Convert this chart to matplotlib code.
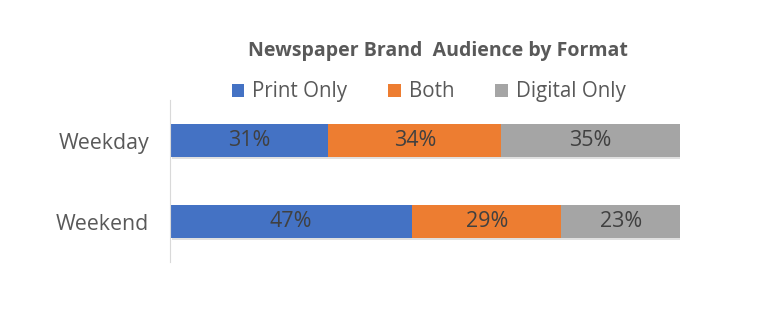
import numpy as np
import matplotlib
matplotlib.use('Agg')
from matplotlib import pyplot as plt
from matplotlib import patheffects as pe

plt.rcParams['font.family'] = ['Open Sans', 'DejaVu Sans']

# data
days = ['Weekday', 'Weekend']
print_only = [31, 47]
both = [34, 29]
digital_only = [35, 23]
series_names = ['Print Only', 'Both', 'Digital Only']
colors = ['#4472C4', '#ED7D31', '#A5A5A5']

values = np.array([print_only, both, digital_only], dtype=float)
shares = values / values.sum(axis=0)

fig = plt.figure(figsize=(7.6, 3.15), dpi=100)
ax = fig.add_axes([0.2237, 0.168, 0.671, 0.514])

ypos = np.arange(len(days))
left = np.zeros(len(days))
shadow = [pe.SimplePatchShadow(offset=(1.2, -1.5), shadow_rgbFace='#999999', alpha=0.3), pe.Normal()]
for i, name in enumerate(series_names):
    bars = ax.barh(ypos, shares[i], left=left, height=0.41, color=colors[i],
                   label=name, path_effects=shadow)
    for j, b in enumerate(bars):
        ax.text(left[j] + shares[i][j] / 2, ypos[j], '%d%%' % values[i][j],
                ha='center', va='center', fontsize=15.5, color='#404040')
    left += shares[i]

ax.set_xlim(0, 1)
ax.set_ylim(1.5, -0.5)
ax.set_yticks(ypos)
ax.set_yticklabels(days, fontsize=15.4, color='#595959')
ax.tick_params(axis='y', length=0, pad=15)
ax.set_xticks([])
for s in ['top', 'right', 'bottom']:
    ax.spines[s].set_visible(False)
ax.spines['left'].set_color('#D9D9D9')

fig.text(0.576, 0.838, 'Newspaper Brand  Audience by Format', ha='center', va='center',
         fontsize=14, fontweight='bold', color='#595959')
leg = fig.legend(loc='center', bbox_to_anchor=(0.564, 0.708), ncol=3, frameon=False,
                 fontsize=14.8, handlelength=0.6, handleheight=0.6, handletextpad=0.4,
                 columnspacing=2.0, labelcolor='#595959')
for h in leg.legend_handles:
    h.set_path_effects([])

plt.savefig('out.png', dpi=100)
plt.close()
